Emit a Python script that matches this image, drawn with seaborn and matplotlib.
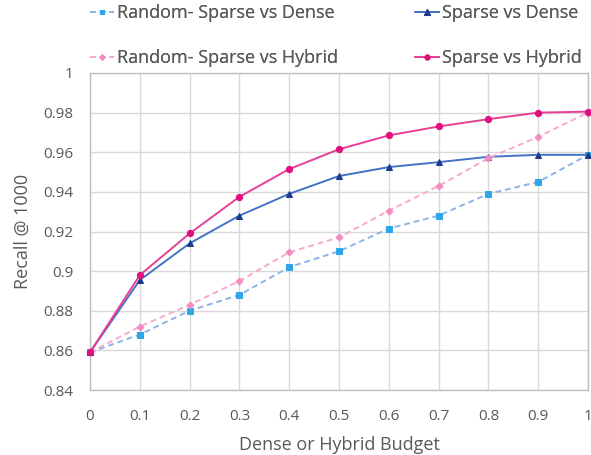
import matplotlib
matplotlib.use("Agg")
import matplotlib.pyplot as plt
import pandas as pd
import seaborn as sns

budget = [0, 0.1, 0.2, 0.3, 0.4, 0.5, 0.6, 0.7, 0.8, 0.9, 1.0]
rand_dense = [0.859, 0.868, 0.880, 0.888, 0.902, 0.910, 0.9215, 0.928, 0.939, 0.945, 0.9587]
sparse_dense = [0.859, 0.8955, 0.914, 0.928, 0.939, 0.948, 0.9525, 0.955, 0.9577, 0.9587, 0.9587]
rand_hybrid = [0.859, 0.872, 0.883, 0.895, 0.9095, 0.917, 0.9305, 0.943, 0.957, 0.9678, 0.980]
sparse_hybrid = [0.859, 0.898, 0.919, 0.9375, 0.9515, 0.9615, 0.9685, 0.973, 0.9767, 0.980, 0.9805]

y_ticks = [0.84, 0.86, 0.88, 0.9, 0.92, 0.94, 0.96, 0.98, 1]
y_tick_labels = ["0.84", "0.86", "0.88", "0.9", "0.92", "0.94", "0.96", "0.98", "1"]
x_tick_labels = ["0", "0.1", "0.2", "0.3", "0.4", "0.5", "0.6", "0.7", "0.8", "0.9", "1"]

series = {
    "Random- Sparse vs Dense": rand_dense,
    "Sparse vs Dense": sparse_dense,
    "Random- Sparse vs Hybrid": rand_hybrid,
    "Sparse vs Hybrid": sparse_hybrid,
}
df = pd.DataFrame({"budget": budget, **series}).melt(
    id_vars="budget", var_name="serie", value_name="recall"
)

estilos = {
    "Random- Sparse vs Dense": dict(color="#8DB3E8", mfc="#2EA6EA", marker="s", ms=4, ls=(0, (3, 2))),
    "Sparse vs Dense": dict(color="#4472C4", mfc="#1B3A8C", marker="^", ms=5, ls="-"),
    "Random- Sparse vs Hybrid": dict(color="#F6A9CC", mfc="#F38CC0", marker="D", ms=3.5, ls=(0, (3, 2))),
    "Sparse vs Hybrid": dict(color="#E83E96", mfc="#E0107F", marker="o", ms=4.5, ls="-"),
}

sns.set_theme(style="whitegrid")
plt.rcParams["font.family"] = ["Open Sans", "DejaVu Sans"]
cinza = "#595959"

fig = plt.figure(figsize=(5.91, 4.55), dpi=100)
ax = fig.add_axes([90 / 591, 1 - 390 / 455, 498 / 591, 317 / 455])

linhas = {}
for nome in series:
    e = estilos[nome]
    sns.lineplot(
        data=df[df["serie"] == nome], x="budget", y="recall", ax=ax,
        color=e["color"], linestyle=e["ls"], lw=1.4, marker=e["marker"],
        markersize=e["ms"], markerfacecolor=e["mfc"], markeredgecolor=e["mfc"],
        clip_on=False, zorder=3,
    )
    linhas[nome] = ax.lines[-1]

ax.set_xlim(0, 1)
ax.set_ylim(0.84, 1)
ax.set_xticks(budget)
ax.set_xticklabels(x_tick_labels)
ax.set_yticks(y_ticks)
ax.set_yticklabels(y_tick_labels)
ax.tick_params(axis="x", colors=cinza, labelsize=11, length=0, pad=14)
ax.tick_params(axis="y", colors=cinza, labelsize=11, length=0, pad=12)
ax.grid(True, color="#D9D9D9", lw=1)
for s in ax.spines.values():
    s.set_color("#BFBFBF")
    s.set_linewidth(1)

ax.set_xlabel("Dense or Hybrid Budget", fontsize=13, color=cinza, labelpad=8)
ax.set_ylabel("Recall @ 1000", fontsize=13, color=cinza, labelpad=8)

# duas colunas de legenda posicionadas separadamente
colunas = [
    (["Random- Sparse vs Dense", "Random- Sparse vs Hybrid"], 90 / 591),
    (["Sparse vs Dense", "Sparse vs Hybrid"], 415 / 591),
]
for nomes, x0 in colunas:
    leg = fig.legend(
        [linhas[n] for n in nomes], nomes,
        loc="upper left", bbox_to_anchor=(x0, 1 - 4 / 455), frameon=False,
        fontsize=13, labelcolor=cinza, handlelength=1.35, handletextpad=0.15,
        labelspacing=1.5, borderpad=0, borderaxespad=0, markerscale=0.8,
    )
    fig.add_artist(leg)

fig.savefig("out.png", dpi=100)
